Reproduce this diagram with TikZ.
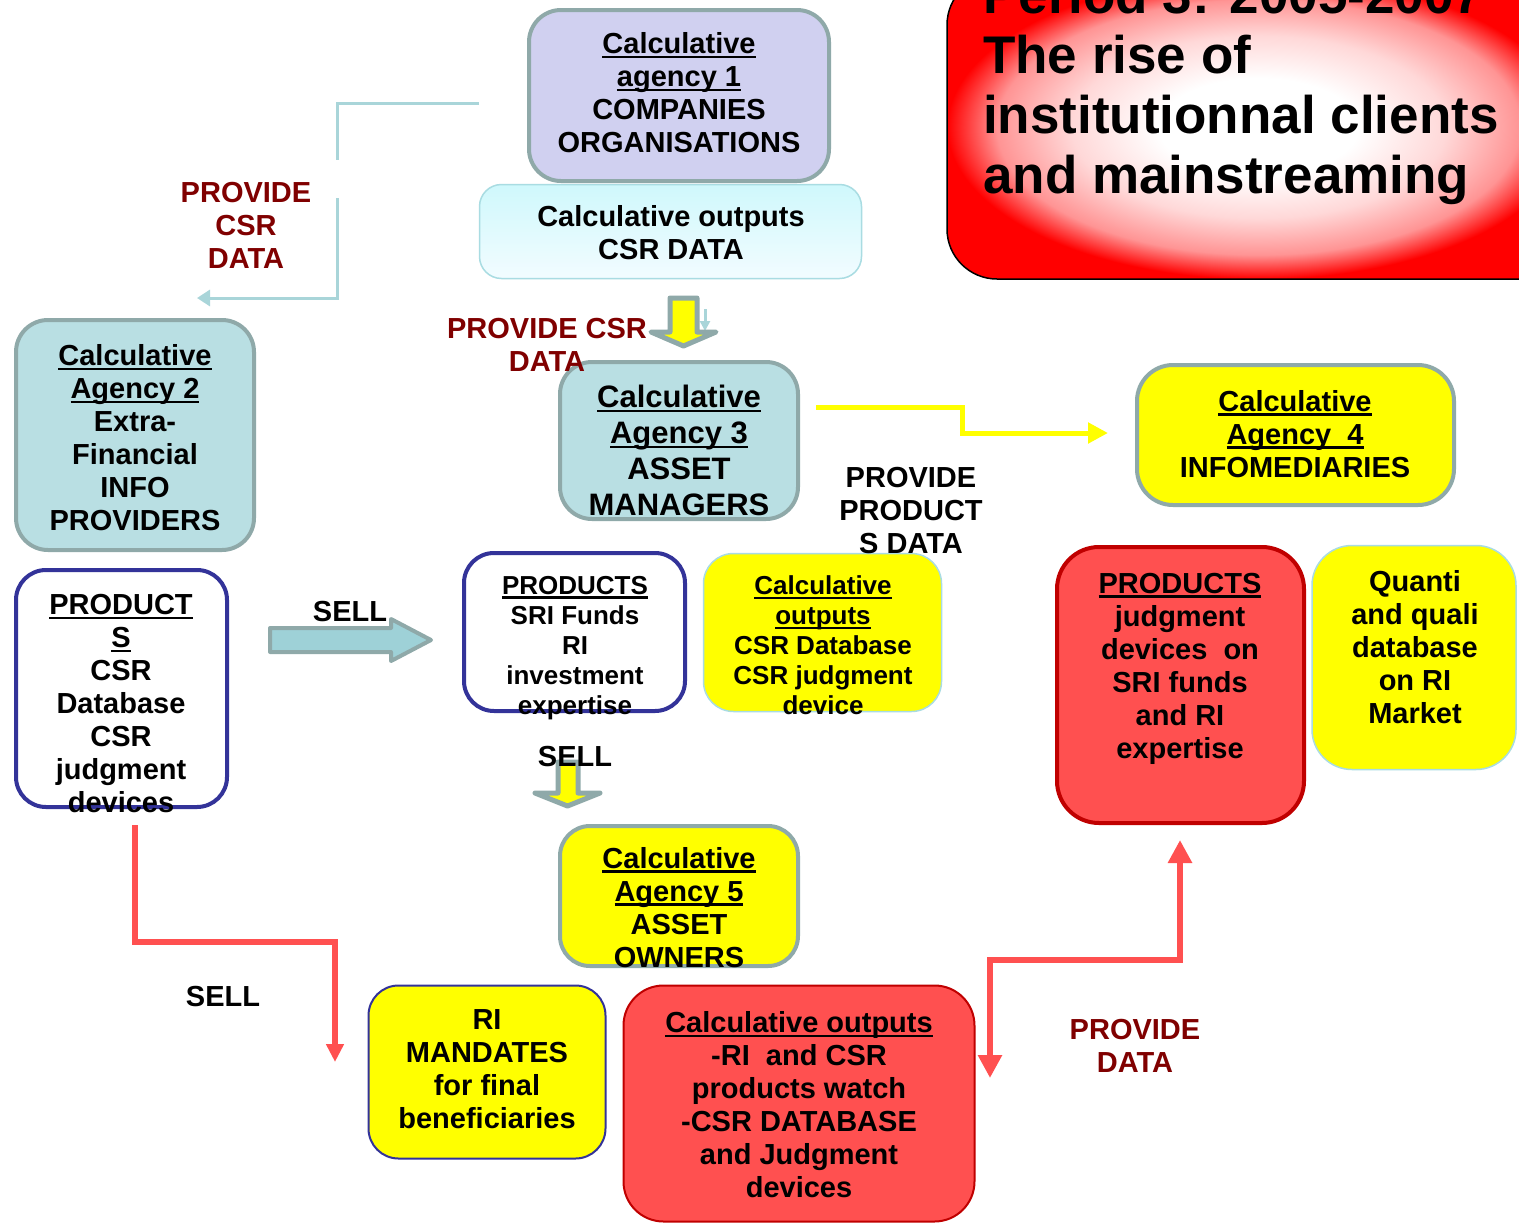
\documentclass[tikz,border=0pt]{standalone}
\usepackage{fontspec}
\setmainfont{Liberation Sans}
\usetikzlibrary{arrows.meta}
\definecolor{lav}{HTML}{D0D0F0}
\definecolor{gteal}{HTML}{8FA9A9}
\definecolor{lteal}{HTML}{B9DFE3}
\definecolor{lcyan}{HTML}{A9DCE2}
\definecolor{lblue}{HTML}{A9D5D9}
\definecolor{navy}{HTML}{333399}
\definecolor{ryel}{HTML}{FFFF00}
\definecolor{rred}{HTML}{FF5050}
\definecolor{dred}{HTML}{C00000}
\definecolor{lblred}{HTML}{800000}
\definecolor{arrteal}{HTML}{9ED1D7}
\definecolor{cytop}{HTML}{CFF8FC}
\definecolor{cybot}{HTML}{F2FCFF}
\definecolor{pinkA}{HTML}{FFD8D8}
\definecolor{pinkB}{HTML}{FF9494}
\pgfdeclareradialshading{titleshade}{\pgfpoint{0bp}{0bp}}{color(0bp)=(white); color(8bp)=(white); color(15bp)=(pinkA); color(21bp)=(pinkB); color(25bp)=(red); color(50bp)=(red)}
\newcommand\fA{\fontsize{29}{33}\selectfont\bfseries}
\newcommand\fB{\fontsize{31}{36}\selectfont\bfseries}
\newcommand\fC{\fontsize{26}{30}\selectfont\bfseries}
\newcommand\fT{\fontsize{53}{60}\selectfont\bfseries}
\newsavebox\ulbox
\newcommand{\myul}[1]{\sbox\ulbox{#1}\rlap{\rule[-4.5pt]{\wd\ulbox}{2.4pt}}\usebox\ulbox}
\begin{document}
\begin{tikzpicture}[x=1pt,y=-1pt,
  bx/.style={rectangle, rounded corners=32pt, inner sep=0pt, line width=4pt},
  gb/.style={bx, draw=gteal},
  nb/.style={bx, draw=navy},
  tx/.style={align=center, inner sep=0pt, font=\fA},
  lbline/.style={draw=lblue, line width=3pt},
  redline/.style={draw=rred, line width=6pt},
  blockarr/.style={line width=5pt, draw=gteal, line join=round}
]
\useasboundingbox (0,0) rectangle (1519,1224);
\clip (0,0) rectangle (1519,1224);
\fill[white] (0,0) rectangle (1519,1224);

% title box
\shadedraw[shading=titleshade, draw=black, line width=1.5pt, rounded corners=50pt]
  (947,-25) -- (947,279) -- (1570,279) -- (1570,-25) -- cycle;

% boxes
\node[bx, line width=1.5pt, draw=lcyan, top color=cytop, bottom color=cybot, rounded corners=22pt,
  minimum width=382pt, minimum height=94pt] (o1) at (670.5,231.5) {};
\node[gb, fill=lav, minimum width=300pt, minimum height=171pt] (a1) at (679,95.5) {};
\node[gb, fill=lteal, minimum width=238pt, minimum height=230pt] (a2) at (135,435) {};
\node[gb, fill=lteal, minimum width=238pt, minimum height=157pt] (a3) at (679,440.5) {};
\node[nb, fill=white, minimum width=211pt, minimum height=237pt, rounded corners=30pt] (pl) at (121.5,688.5) {};
\node[nb, fill=white, minimum width=221pt, minimum height=158pt, rounded corners=30pt] (ps) at (574.5,632) {};
\node[bx, line width=1.5pt, draw=lcyan, fill=ryel, minimum width=238pt, minimum height=158pt, rounded corners=30pt] (yo) at (822.5,632.5) {};
\node[gb, fill=ryel, minimum width=317pt, minimum height=140pt, rounded corners=36pt] (a4) at (1295.5,435) {};
\node[bx, draw=dred, fill=rred, minimum width=247pt, minimum height=276pt, rounded corners=42pt] (pr) at (1180.5,685) {};
\node[bx, line width=1.5pt, draw=lcyan, fill=ryel, minimum width=204pt, minimum height=224pt, rounded corners=40pt] (qb) at (1414,657.5) {};
\node[gb, fill=ryel, minimum width=238pt, minimum height=140pt, rounded corners=30pt] (a5) at (679,896) {};
\node[bx, line width=2pt, draw=navy, fill=ryel, minimum width=237pt, minimum height=173pt, rounded corners=30pt] (ri) at (487,1072) {};
\node[bx, line width=2pt, draw=dred, fill=rred, minimum width=351pt, minimum height=236pt, rounded corners=40pt] (ro) at (799,1103.5) {};

% connector end points
\coordinate (c1) at (479,103);
\coordinate (c2) at (337,160);
\coordinate (c3) at (337,198);
\coordinate (c4) at (197,298);
\coordinate (y1) at (816,407);
\coordinate (y2) at (1108,433);
\coordinate (r1) at (135,825);
\coordinate (r2) at (335,1062);
\coordinate (p1) at (1180,840);
\coordinate (p2) at (990,1078);
\coordinate (sb1) at (705,309);
\coordinate (sb2) at (705,331);

% connectors
\draw[lbline] (c1) -- (337,103) -- (c2);
\draw[lbline, -{Triangle[length=13pt,width=16pt]}] (c3) -- (337,298) -- (c4);
\draw[lbline, -{Triangle[length=10pt,width=10pt]}] (sb1) -- (sb2);
\draw[draw=ryel, line width=5pt, -{Triangle[length=20pt,width=20pt]}] (y1) -- (962,407) -- (962,433) -- (y2);
\draw[redline, -{Triangle[length=18pt,width=17pt]}] (r1) -- (135,942) -- (335,942) -- (r2);
\draw[redline, {Triangle[length=23pt,width=23pt]}-{Triangle[length=23pt,width=23pt]}] (p1) -- (1180,960) -- (990,960) -- (p2);

% block arrows
\draw[blockarr, fill=ryel] (670,298) -- (697,298) -- (697,332) -- (716,332) -- (683.5,346) -- (651,332) -- (670,332) -- cycle;
\draw[blockarr, line width=4pt, fill=arrteal] (270,628) -- (391,628) -- (391,619) -- (431,640) -- (391,661) -- (391,652) -- (270,652) -- cycle;
\draw[blockarr, fill=ryel] (558,762) -- (578,762) -- (578,793) -- (600,793) -- (567.5,806) -- (535,793) -- (558,793) -- cycle;

% texts
\node[align=left, inner sep=0pt, font=\fT, anchor=west] (tt) at (983,90) {Period 3: 2005-2007\\The rise of\\institutionnal clients\\and mainstreaming};
\node[tx] (a1t) at (679,93) {\myul{Calculative}\\\myul{agency 1}\\COMPANIES\\ORGANISATIONS};
\node[tx] (o1t) at (671,232.5) {Calculative outputs\\CSR DATA};
\node[tx] (a2t) at (135,438) {\myul{Calculative}\\\myul{Agency 2}\\Extra-\\Financial\\INFO\\PROVIDERS};
\node[tx, font=\fB] (a3t) at (679,450.5) {\myul{Calculative}\\\myul{Agency 3}\\ASSET\\MANAGERS};
\node[tx] (plt) at (121,704) {\myul{PRODUCT}\\\myul{S}\\CSR\\Database\\CSR\\judgment\\devices};
\node[tx, font=\fC] (pst) at (575,648) {\myul{PRODUCTS}\\SRI Funds\\RI\\investment\\expertise};
\node[tx, font=\fC] (yot) at (823,645.5) {\myul{Calculative}\\\myul{outputs}\\CSR Database\\CSR judgment\\device};
\node[tx] (a4t) at (1295,434) {\myul{Calculative}\\\myul{Agency\ \ 4}\\INFOMEDIARIES};
\node[tx] (prt) at (1180,668.5) {\myul{PRODUCTS}\\judgment\\devices\ \ on\\SRI funds\\and RI\\expertise};
\node[tx] (qt) at (1415,647.5) {Quanti\\and quali\\database\\on RI\\Market};
\node[tx] (a5t) at (679,907.5) {\myul{Calculative}\\\myul{Agency 5}\\ASSET\\OWNERS};
\node[tx] (rit) at (487,1069) {RI\\MANDATES\\for final\\beneficiaries};
\node[tx] (rot) at (799,1105) {\myul{Calculative outputs}\\-RI\ \ and CSR\\products watch\\-CSR DATABASE\\and Judgment\\devices};

% labels
\node[tx, text=lblred] (l1) at (246,225.5) {PROVIDE\\CSR\\DATA};
\node[tx, text=lblred] (l2) at (547,344.5) {PROVIDE CSR\\DATA};
\node[tx] (l3) at (911,511) {PROVIDE\\PRODUCT\\S DATA};
\node[tx] (s1) at (350,612) {SELL};
\node[tx] (s2) at (575,757) {SELL};
\node[tx] (s3) at (223,997) {SELL};
\node[tx, text=lblred] (l4) at (1135,1045.5) {PROVIDE\\DATA};
\end{tikzpicture}
\end{document}
